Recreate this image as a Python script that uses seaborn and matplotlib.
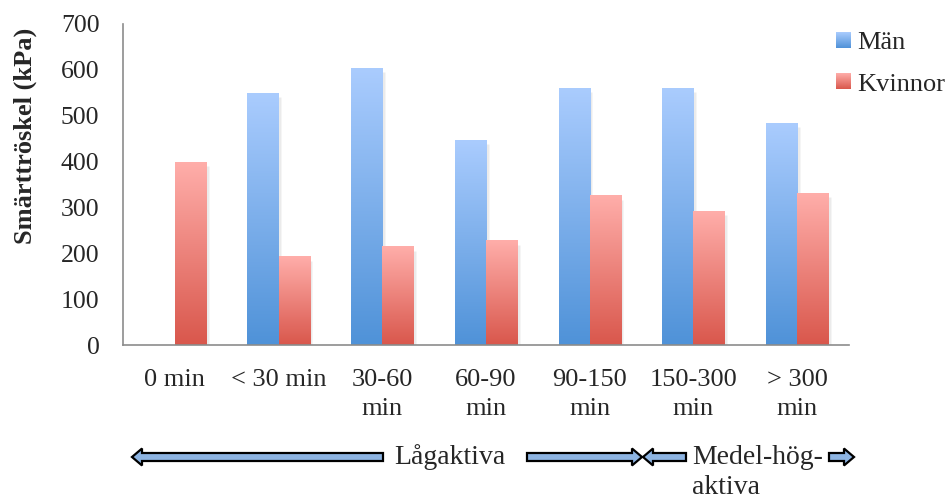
import matplotlib
matplotlib.use("Agg")
import matplotlib.pyplot as plt
import numpy as np
import pandas as pd
import seaborn as sns
from matplotlib.colors import LinearSegmentedColormap
from matplotlib.patches import FancyArrow, Patch
from matplotlib.legend_handler import HandlerBase
from matplotlib.image import BboxImage
from matplotlib.transforms import Bbox, TransformedBbox

# data
categories = ["0 min", "< 30 min", "30-60\nmin", "60-90\nmin", "90-150\nmin", "150-300\nmin", "> 300\nmin"]
man = [np.nan, 548, 604, 447, 560, 560, 484]
kvinnor = [399, 192, 214, 227, 325, 292, 331]
groups = ["Män", "Kvinnor"]

df = pd.DataFrame({
    "kategori": categories * 2,
    "grupp": ["Män"] * len(categories) + ["Kvinnor"] * len(categories),
    "varde": man + kvinnor,
})

sns.set_style("white")
plt.rcParams["font.family"] = ["Liberation Serif", "DejaVu Serif"]

fig = plt.figure(figsize=(9.49, 5), dpi=100)
ax = fig.add_axes([123 / 949, 155 / 500, 726 / 949, 321 / 500])

sns.barplot(data=df, x="kategori", y="varde", hue="grupp", hue_order=groups,
            order=categories, width=0.6, palette=["#7FAEE8", "#F08A80"],
            legend=False, ax=ax)

# replace flat bars by vertical gradients (Excel look)
cmaps = {
    "Män": LinearSegmentedColormap.from_list("blue", ["#4F92D8", "#AACCFE"]),
    "Kvinnor": LinearSegmentedColormap.from_list("red", ["#D9574C", "#FFAEAA"]),
}
grad = np.linspace(0, 1, 256).reshape(-1, 1)
for grp, cont in zip(groups, ax.containers):
    for bar in cont:
        h = bar.get_height()
        if not np.isfinite(h) or h <= 0:
            continue
        x0, w = bar.get_x(), bar.get_width()
        bar.set_visible(False)
        # soft shadow
        ax.bar(x0 + w / 2 + 0.025, h - 4, width=w, bottom=-4, color="#000000",
               alpha=0.08, zorder=1, align="center")
        ax.imshow(grad, extent=[x0, x0 + w, 0, h], origin="lower", aspect="auto",
                  cmap=cmaps[grp], zorder=2, interpolation="bicubic")

ax.set_xlim(-0.5, len(categories) - 0.5)
ax.set_ylim(0, 700)
ax.set_yticks(range(0, 701, 100))

sns.despine(ax=ax)
for s in ["left", "bottom"]:
    ax.spines[s].set_color("#8C8C8C")
    ax.spines[s].set_linewidth(1.2)

ax.set_xticks(range(len(categories)))
ax.set_xticklabels(categories, fontsize=19, linespacing=1.45)
ax.set_xticks(np.arange(-0.5, len(categories)), minor=True)
ax.tick_params(axis="x", which="major", length=0, pad=17)
ax.tick_params(axis="x", which="minor", length=5, width=1.2, color="#8C8C8C", direction="out")
ax.tick_params(axis="y", length=6, width=1.2, color="#8C8C8C", direction="out",
               labelsize=18.5, pad=11)
ax.set_xlabel("")
ax.set_ylabel("Smärttröskel (kPa)", fontsize=19, fontweight="bold")
ax.yaxis.set_label_coords(-86 / 726, (345 - 136) / 321)


# legend with small gradient squares
class GradientHandler(HandlerBase):
    def __init__(self, cmap):
        super().__init__()
        self.cmap = cmap

    def create_artists(self, legend, orig_handle, xdescent, ydescent, width, height,
                       fontsize, trans):
        bb = TransformedBbox(Bbox.from_bounds(-xdescent, -ydescent, width, height), trans)
        img = BboxImage(bb, cmap=self.cmap, interpolation="bicubic", origin="lower")
        img.set_data(grad)
        return [img]


handles = [Patch(facecolor="#7FAEE8"), Patch(facecolor="#F08A80")]
fig.legend(handles, groups, loc="upper left", bbox_to_anchor=(836 / 949, 1 - 32 / 500),
           frameon=False, fontsize=19, handlelength=0.55, handleheight=0.55,
           handletextpad=0.25, labelspacing=0.72, borderpad=0, borderaxespad=0,
           handler_map={handles[0]: GradientHandler(cmaps["Män"]),
                        handles[1]: GradientHandler(cmaps["Kvinnor"])})

# activity-level arrows below the axis (pixel layout, converted to inches)
def px_arrow(x_tail, x_tip, y):
    yi = (500 - y) / 100
    fig.add_artist(FancyArrow(x_tail / 100, yi, (x_tip - x_tail) / 100, 0,
                              width=0.08, head_width=0.17, head_length=0.10,
                              length_includes_head=True, facecolor="#8DB4E2",
                              edgecolor="black", linewidth=1.6,
                              transform=fig.dpi_scale_trans))

px_arrow(383, 132, 457)
px_arrow(527, 642, 457)
px_arrow(686, 643, 457)
px_arrow(829, 854, 457)

fig.text(450 / 949, 1 - 457 / 500, "Lågaktiva", fontsize=20, ha="center", va="center")
fig.text(692 / 949, 1 - 457 / 500, "Medel-hög-", fontsize=20, ha="left", va="center")
fig.text(692 / 949, 1 - 488 / 500, "aktiva", fontsize=20, ha="left", va="center")

fig.savefig("out.png", dpi=100)
